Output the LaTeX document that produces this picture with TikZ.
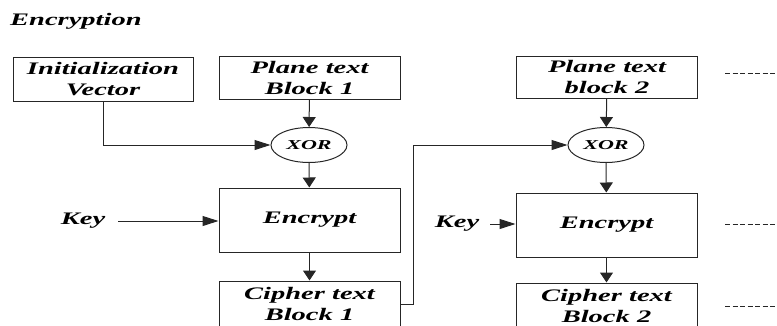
\documentclass[tikz,border=0pt]{standalone}
\usepackage{fontspec}
\setmainfont{Liberation Serif}[FakeStretch=1.62]
\usetikzlibrary{arrows.meta,shapes.geometric}
\definecolor{ln}{HTML}{262626}
\begin{document}
\begin{tikzpicture}[x=1pt,y=-1pt,
  lbl/.style={font=\fontsize{17.6}{21}\selectfont\bfseries\itshape, align=center, inner sep=0pt},
  blk/.style={lbl, draw=ln, line width=1pt, minimum width=181pt},
  xorn/.style={ellipse, draw=ln, line width=1pt, inner sep=0pt, minimum width=76pt, minimum height=35pt,
    font=\fontsize{13.6}{15}\selectfont\bfseries\itshape},
  harr/.style={draw=ln, line width=1pt, -{Triangle[length=16pt,width=10pt]}},
  varr/.style={draw=ln, line width=1pt, -{Triangle[length=10pt,width=13pt]}},
  dsh/.style={draw=ln, line width=1pt, dash pattern=on 5pt off 2.5pt}
]
\useasboundingbox (0,0) rectangle (777,325);
\node[lbl, anchor=west] (title) at (10,21) {Encryption};
% column 1
\node[blk, minimum width=180pt, minimum height=44pt] (iv) at (103,79) {Initialization\\Vector};
\node[blk, minimum height=43pt] (pt1) at (309.5,77.5) {Plane text\\Block 1};
\node[xorn] (x1) at (309,145) {XOR};
\node[blk, minimum height=64pt] (e1) at (309.5,220) {Encrypt};
\node[blk, minimum height=46pt] (c1) at (309.5,304) {Cipher text\\Block 1};
\node[lbl] (k1) at (83,221) {Key};
% column 2
\node[blk, minimum height=42pt] (pt2) at (607,77) {Plane text\\block 2};
\node[xorn] (x2) at (606,145) {XOR};
\node[blk, minimum height=64pt] (e2) at (606.5,225) {Encrypt};
\node[blk, minimum height=46pt] (c2) at (606.5,306) {Cipher text\\Block 2};
\node[lbl] (k2) at (457,224) {Key};
% connectors
\draw[varr] (pt1) -- (x1);
\draw[harr] (iv.south) |- (x1.west);
\draw[varr] (x1) -- (e1);
\draw[harr, shorten <=13pt] (k1.east) -- (k1.east -| e1.west);
\draw[varr] (e1) -- (c1);
\draw[harr] (c1.east) -- ++(13,0) |- (x2.west);
\draw[varr] (pt2) -- (x2);
\draw[varr] (x2) -- (e2);
\draw[harr, shorten <=11pt] (k2.east) -- (k2.east -| e2.west);
\draw[varr] (e2) -- (c2);
% dashed continuations
\coordinate (da1) at (725,73);  \coordinate (db1) at (777,73);
\coordinate (da2) at (725,224); \coordinate (db2) at (777,224);
\coordinate (da3) at (725,306); \coordinate (db3) at (777,306);
\draw[dsh] (da1) -- (db1);
\draw[dsh] (da2) -- (db2);
\draw[dsh] (da3) -- (db3);
\end{tikzpicture}
\end{document}
